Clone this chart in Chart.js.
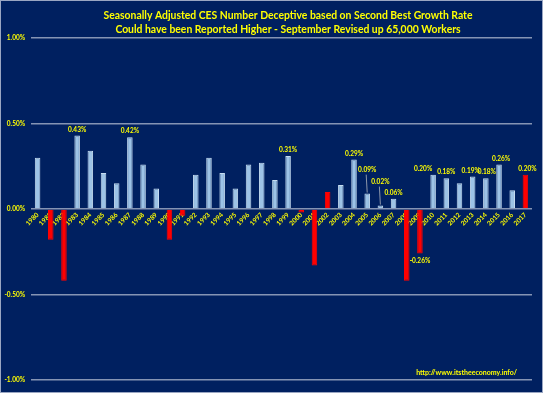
<!DOCTYPE html>
<html>
<head>
<meta charset="utf-8">
<script src="https://cdn.jsdelivr.net/npm/chart.js@4.4.0/dist/chart.umd.min.js"></script>
<style>
	html, body { margin: 0; padding: 0; background: #002060; }
	#wrap { width: 543px; height: 393px; position: relative; }
</style>
</head>
<body>
<div id="wrap"><canvas id="myChart"></canvas></div>
<script>
	// data (percent)
	var years = [1980, 1981, 1982, 1983, 1984, 1985, 1986, 1987, 1988, 1989,
		1990, 1991, 1992, 1993, 1994, 1995, 1996, 1997, 1998, 1999,
		2000, 2001, 2002, 2003, 2004, 2005, 2006, 2007, 2008, 2009,
		2010, 2011, 2012, 2013, 2014, 2015, 2016, 2017];
	var growth = [0.30, -0.18, -0.42, 0.43, 0.34, 0.21, 0.15, 0.42, 0.26, 0.12,
		-0.18, -0.04, 0.20, 0.30, 0.21, 0.12, 0.26, 0.27, 0.17, 0.31,
		-0.02, -0.33, 0.10, 0.14, 0.29, 0.09, 0.02, 0.06, -0.42, -0.26,
		0.20, 0.18, 0.15, 0.19, 0.18, 0.26, 0.11, 0.20];
	var redYears = [2002, 2017];
	var labeledYears = [1983, 1987, 1999, 2004, 2005, 2006, 2007, 2009, 2010, 2011, 2013, 2014, 2015, 2017];
	var yTicks = [-1, -0.5, 0, 0.5, 1];
	var titleLines = ["Seasonally Adjusted CES Number Deceptive based on Second Best Growth Rate",
		"Could have been Reported Higher - September Revised up 65,000 Workers"];
	var sourceText = "http://www.itstheeconomy.info/";

	var yellow = '#FFFF00';
	var fontFam = 'Lato, "Open Sans", sans-serif';

	var barColors = growth.map(function(v, i){
		return (v < 0 || redYears.indexOf(years[i]) >= 0) ? '#FF0000' : '#9DC3E6';
	});
	var barBorders = growth.map(function(v, i){
		return (v < 0 || redYears.indexOf(years[i]) >= 0) ? '#FF0000' : '#C5DCF0';
	});

	// leader-line labels sit higher above their bars, a few are nudged sideways
	var calloutLift = {2005: 24, 2006: 24};
	var labelNudge = {2010: -10, 2013: -2, 2014: 1, 2015: 2, 2017: 2};

	var decor = {
		id: 'decor',
		beforeDraw: function(chart){
			var c = chart.ctx;
			c.save();
			c.fillStyle = '#002060';
			c.fillRect(0, 0, chart.width, chart.height);
			c.strokeStyle = '#9AA6C2';
			c.lineWidth = 1;
			c.strokeRect(0.5, 0.5, chart.width - 1, chart.height - 1);
			c.restore();
		},
		afterDraw: function(chart){
			var c = chart.ctx;
			var meta = chart.getDatasetMeta(0);
			c.save();
			c.fillStyle = yellow;
			c.textAlign = 'center';
			c.textBaseline = 'middle';
			c.font = 'bold 10.4px ' + fontFam;
			c.fillText(titleLines[0], 288, 16);
			c.fillText(titleLines[1], 288, 30);

			c.font = 'bold 6.5px ' + fontFam;
			labeledYears.forEach(function(yr){
				var i = years.indexOf(yr);
				var bar = meta.data[i];
				var v = growth[i];
				var txt = v.toFixed(2) + '%';
				var lx = bar.x + (labelNudge[yr] || 0);
				var ly;
				if (v < 0) {
					ly = bar.y + 7;
				} else if (calloutLift[yr]) {
					ly = bar.y - calloutLift[yr];
					c.strokeStyle = '#8C96AA';
					c.lineWidth = 1;
					c.beginPath();
					c.moveTo(bar.x - 1, ly + 5);
					c.lineTo(bar.x, bar.y - 1);
					c.stroke();
				} else {
					ly = bar.y - 6;
				}
				c.fillText(txt, lx, ly);
			});

			c.font = 'bold 7px ' + fontFam;
			c.textAlign = 'right';
			c.fillText(sourceText, 517, 373);
			c.restore();
		}
	};

	var ctx = document.getElementById('myChart');
	var myChart = new Chart(ctx, {
		type: 'bar',
		data: {
			labels: years.map(String),
			datasets: [{
				data: growth,
				backgroundColor: barColors,
				borderColor: barBorders,
				borderWidth: 1,
				barPercentage: 0.42,
				categoryPercentage: 1
			}]
		},
		options: {
			responsive: true,
			maintainAspectRatio: false,
			animation: false,
			layout: {
				padding: { left: 0, right: 11, top: 38, bottom: 13 }
			},
			plugins: {
				legend: { display: false },
				title: { display: false },
				tooltip: { enabled: false }
			},
			scales: {
				x: {
					position: { y: 0 },
					grid: { display: false, drawTicks: false },
					border: { display: false },
					ticks: {
						color: yellow,
						font: { size: 6.5, weight: 'bold', family: fontFam },
						minRotation: 45,
						maxRotation: 45,
						autoSkip: false,
						padding: 2
					}
				},
				y: {
					min: yTicks[0],
					max: yTicks[yTicks.length - 1],
					afterFit: function(scale){ scale.width = 31; },
					afterBuildTicks: function(scale){
						scale.ticks = yTicks.map(function(v){ return { value: v }; });
					},
					grid: { color: '#8594B4', lineWidth: 1.5, drawTicks: false },
					border: { display: false },
					ticks: {
						color: yellow,
						padding: 6,
						font: { size: 6.5, weight: 'bold', family: fontFam },
						callback: function(v){ return v.toFixed(2) + '%'; }
					}
				}
			}
		},
		plugins: [decor]
	});
</script>
</body>
</html>
